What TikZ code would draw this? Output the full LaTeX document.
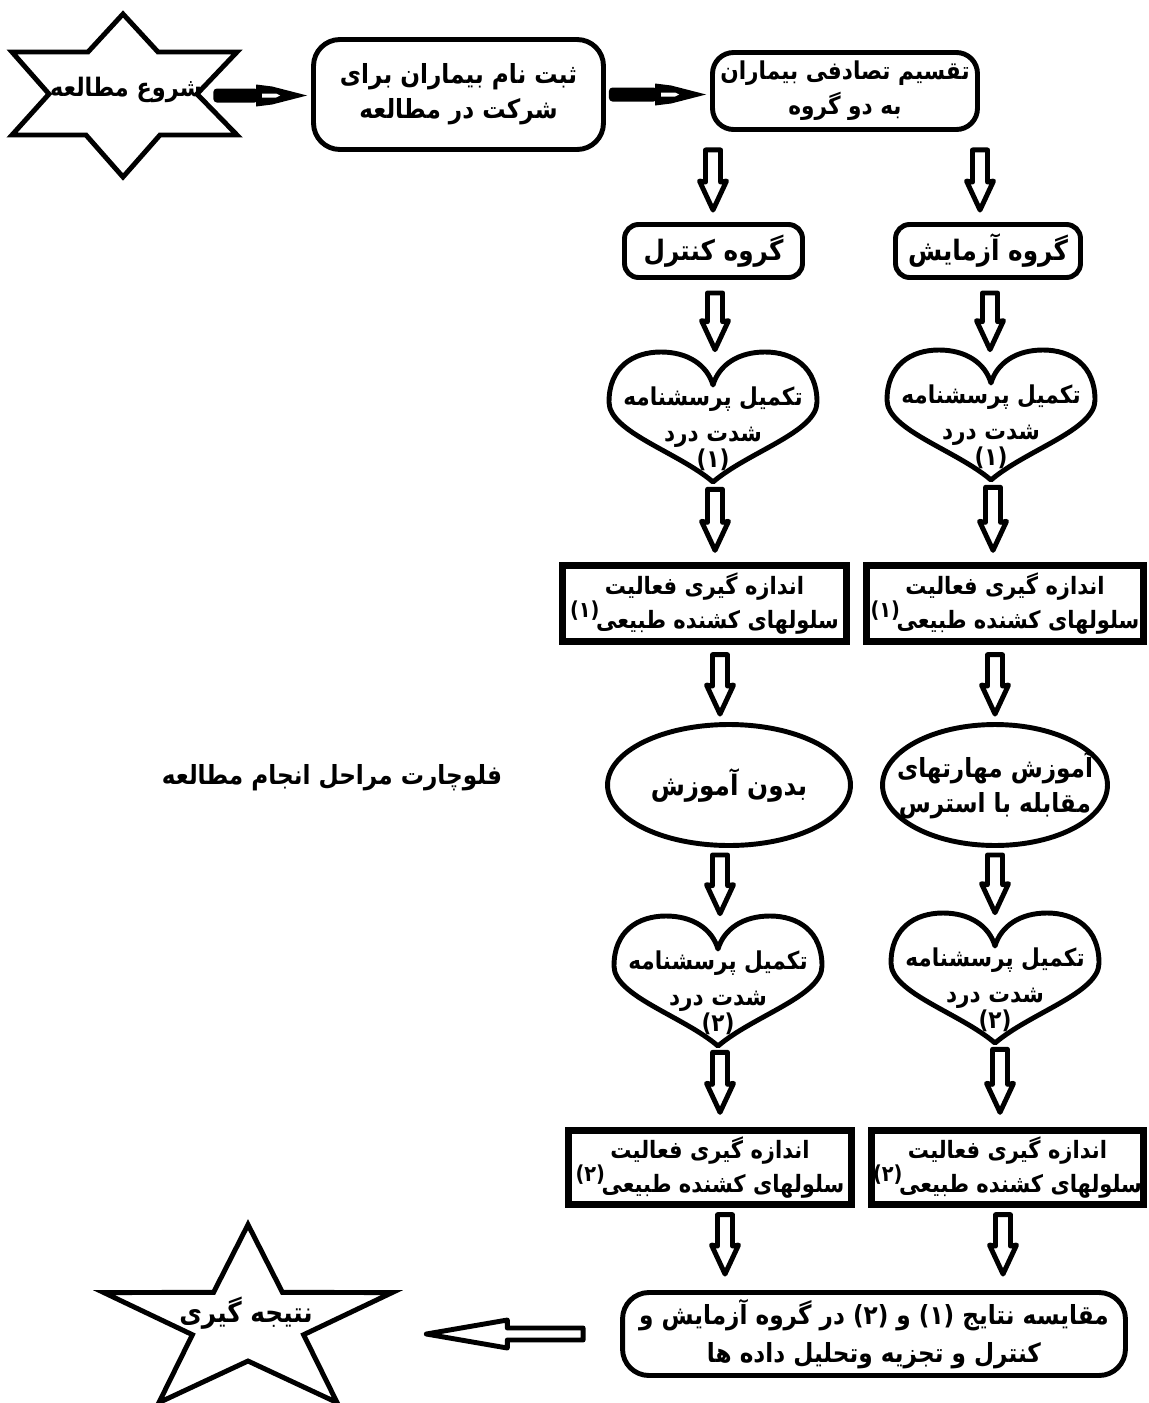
\documentclass[tikz,border=0pt]{standalone}
\usepackage{fontspec}
\newfontfamily\fa[Script=Arabic,FakeStretch=0.88]{DejaVu Sans}
\TeXXeTstate=1
\usetikzlibrary{calc,shapes.geometric}
\newcommand\rl[1]{\beginR #1\endR}
\newcommand\fs[1]{\fontsize{#1}{#1}\selectfont}
\newcommand\numup[1]{\kern-2pt\raisebox{0.8ex}{\fontsize{12.5}{12.5}\selectfont #1}}
\newcommand\heartpath[1]{%
  \draw[line width=2.8pt, line join=round, shift={(#1.center)}]
  (0,65) .. controls (-35,35) and (-104,15) .. (-104,-15)
  .. controls (-104,-50) and (-80,-65) .. (-52,-65)
  .. controls (-25,-65) and (-6,-52) .. (0,-32)
  .. controls (6,-52) and (25,-65) .. (52,-65)
  .. controls (80,-65) and (104,-50) .. (104,-15)
  .. controls (104,15) and (35,35) .. (0,65) -- cycle;}
% vertical block arrow: from, to, x(px), start gap(px), end gap(px)
\newcommand\varrow[5]{%
  \draw[barrow] let \p1=(#1.south), \p2=(#2.north),
    \n1={#3*0.02cm}, \n2={\y1-#4*0.02cm}, \n3={\y2+#5*0.02cm} in
  (\n1-0.15cm,\n2) -- (\n1+0.15cm,\n2) -- (\n1+0.15cm,\n3+0.56cm)
  -- (\n1+0.27cm,\n3+0.58cm) -- (\n1,\n3) -- (\n1-0.27cm,\n3+0.58cm)
  -- (\n1-0.15cm,\n3+0.56cm) -- cycle;}
% horizontal arrow with black shaft: from, to, start gap, end gap
\newcommand\harrow[4]{%
  \fill[rounded corners=2pt] let \p1=(#1.east), \p2=(#2.west),
    \n1={\x1+#3*0.02cm}, \n2={\x2-#4*0.02cm} in
  (\n1,\y1+0.14cm) rectangle (\n2-0.98cm,\y1-0.14cm);
  \fill let \p1=(#1.east), \p2=(#2.west), \n2={\x2-#4*0.02cm} in
  (\n2-1.02cm,\y1+0.22cm) -- (\n2-0.7cm,\y1+0.18cm) -- (\n2,\y1)
  -- (\n2-0.7cm,\y1-0.18cm) -- (\n2-1.02cm,\y1-0.22cm) -- cycle;
  \fill[white] let \p1=(#1.east), \p2=(#2.west), \n2={\x2-#4*0.02cm} in
  (\n2-0.9cm,\y1+0.04cm) -- (\n2-0.62cm,\y1+0.04cm) -- (\n2-0.54cm,\y1)
  -- (\n2-0.62cm,\y1-0.04cm) -- (\n2-0.9cm,\y1-0.04cm) -- cycle;}
\begin{document}
\begin{tikzpicture}[x=0.02cm,y=-0.02cm,
  txt/.style={font={\fa\bfseries\fontsize{15}{20}\selectfont}, align=center, inner sep=0pt},
  nktxt/.style={font={\fa\bfseries\fontsize{13.6}{19}\selectfont}},
  rbox/.style={draw, line width=2.8pt, txt},
  sbox/.style={draw, line width=3.6pt, txt, nktxt},
  ellbox/.style={ellipse, draw, line width=2.8pt, inner sep=0pt},
  heartbox/.style={minimum width=41.6mm, minimum height=26mm, inner sep=0pt},
  barrow/.style={draw, line width=2.8pt, fill=white, line join=round}]
\useasboundingbox (0,0) rectangle (1149,1403);
\fill[white] (0,0) rectangle (1149,1403);

% start hexagram
\node[minimum width=45mm, minimum height=32.6mm, inner sep=0pt] (hex) at (124.5,95.5) {};
\draw[line width=2.8pt, line join=miter]
  (123,14) -- (158,52) -- (237,52) -- (197,94) -- (237,135) -- (160,135)
  -- (123,177) -- (86,135) -- (12,135) -- (49,94) -- (12,52) -- (88,52) -- cycle;
\node[txt, font={\fa\bfseries\fs{14.5}}] (hext) at (126,90) {\rl{شروع مطالعه}};

% top boxes
\node[rbox, rounded corners=15pt, minimum width=58mm, minimum height=22mm] (box1) at (458.5,94.5)
  {\rl{ثبت نام بیماران برای}\\\rl{شرکت در مطالعه}};
\node[rbox, rounded corners=12pt, minimum width=53mm, minimum height=15.4mm,
  font={\fa\bfseries\fontsize{14}{20}\selectfont}] (box2) at (845,91)
  {\rl{تقسیم تصادفی بیماران}\\\rl{به دو گروه}};

\node[rbox, rounded corners=8pt, minimum width=35.6mm, minimum height=10.6mm, font={\fa\bfseries\fs{16}}] (ctrl) at (713.5,251)
  {\rl{گروه کنترل}};
\node[rbox, rounded corners=8pt, minimum width=37mm, minimum height=10.6mm, font={\fa\bfseries\fs{16}}] (test) at (988,251)
  {\rl{گروه آزمایش}};

% hearts 1
\node[heartbox] (h1L) at (713,417) {};
\heartpath{h1L}
\node[txt, font={\fa\bfseries\fontsize{14}{20}\selectfont}] (h1Lt) at (713,429) {\rl{تکمیل پرسشنامه}\\\rl{شدت درد}\\[-5pt]\rl{(۱)}};
\node[heartbox] (h1R) at (991,415) {};
\heartpath{h1R}
\node[txt, font={\fa\bfseries\fontsize{14}{20}\selectfont}] (h1Rt) at (991,427) {\rl{تکمیل پرسشنامه}\\\rl{شدت درد}\\[-5pt]\rl{(۱)}};

% NK 1
\node[sbox, minimum width=56.8mm, minimum height=15.2mm] (nk1L) at (704.5,603.5)
  {\rl{اندازه گیری فعالیت}\\\rl{سلولهای کشنده طبیعی\numup{(۱)}}};
\node[sbox, minimum width=55.4mm, minimum height=15.2mm] (nk1R) at (1005,603.5)
  {\rl{اندازه گیری فعالیت}\\\rl{سلولهای کشنده طبیعی\numup{(۱)}}};

% ellipses
\node[ellbox, minimum width=48.6mm, minimum height=24.2mm] (ellL) at (729,785) {};
\node[txt, font={\fa\bfseries\fs{16}}] (ellLt) at (729,785) {\rl{بدون آموزش}};
\node[ellbox, minimum width=45mm, minimum height=24.2mm] (ellR) at (995,785) {};
\node[txt] (ellRt) at (995,786) {\rl{آموزش مهارتهای}\\\rl{مقابله با استرس}};

% title
\node[txt] (title) at (332,778) {\rl{فلوچارت مراحل انجام مطالعه}};

% hearts 2
\node[heartbox] (h2L) at (718,981) {};
\heartpath{h2L}
\node[txt, font={\fa\bfseries\fontsize{14}{20}\selectfont}] (h2Lt) at (718,993) {\rl{تکمیل پرسشنامه}\\\rl{شدت درد}\\[-5pt]\rl{(۲)}};
\node[heartbox] (h2R) at (995,978) {};
\heartpath{h2R}
\node[txt, font={\fa\bfseries\fontsize{14}{20}\selectfont}] (h2Rt) at (995,990) {\rl{تکمیل پرسشنامه}\\\rl{شدت درد}\\[-5pt]\rl{(۲)}};

% NK 2
\node[sbox, minimum width=56.6mm, minimum height=14.8mm] (nk2L) at (710,1167.5)
  {\rl{اندازه گیری فعالیت}\\\rl{سلولهای کشنده طبیعی\numup{(۲)}}};
\node[sbox, minimum width=54.4mm, minimum height=14.8mm] (nk2R) at (1007.5,1167.5)
  {\rl{اندازه گیری فعالیت}\\\rl{سلولهای کشنده طبیعی\numup{(۲)}}};

% final box
\node[rbox, rounded corners=15pt, minimum width=100.6mm, minimum height=16.6mm,
  font={\fa\bfseries\fontsize{15}{22}\selectfont}] (final) at (874,1334)
  {\rl{مقایسه نتایج (۱) و (۲) در گروه آزمایش و}\\\rl{کنترل و تجزیه وتحلیل داده ها}};

% conclusion star
\node[minimum width=57.6mm, minimum height=35.6mm, inner sep=0pt] (conc) at (248,1313) {};
\draw[line width=2.8pt, line join=miter]
  (248,1224.6) -- (282.4,1292.3) -- (392.1,1292.6) -- (303.6,1334.7) -- (337.1,1402.6)
  -- (248,1361) -- (158.9,1402.6) -- (192.4,1334.7) -- (103.9,1292.6) -- (213.6,1292.3) -- cycle;
\node[txt, font={\fa\bfseries\fs{16}}] (conct) at (246,1313) {\rl{نتیجه گیری}};

% connectors
\harrow{hex}{box1}{-24}{4}
\harrow{box1}{box2}{3}{4}
\varrow{box2}{ctrl}{713}{18}{12}
\varrow{box2}{test}{980}{18}{12}
\varrow{ctrl}{h1L}{715}{13}{2}
\varrow{test}{h1R}{990}{13}{0}
\varrow{h1L}{nk1L}{715}{7}{12}
\varrow{h1R}{nk1R}{993}{7}{12}
\varrow{nk1L}{ellL}{720}{10}{8}
\varrow{nk1R}{ellR}{995}{10}{8}
\varrow{ellL}{h2L}{720}{7}{2}
\varrow{ellR}{h2R}{995}{7}{0}
\varrow{h2L}{nk2L}{720}{6}{15}
\varrow{h2R}{nk2R}{1000}{6}{15}
\varrow{nk2L}{final}{725}{7}{16}
\varrow{nk2R}{final}{1003}{7}{16}
\draw[barrow] let \p1=(final.west), \p2=(conc.east),
    \n1={\x1-37*0.02cm}, \n2={\x2+34*0.02cm} in
  (\n1,\y1+0.12cm) -- (\n2+1.62cm,\y1+0.12cm) -- (\n2+1.62cm,\y1+0.28cm) -- (\n2,\y1)
  -- (\n2+1.62cm,\y1-0.28cm) -- (\n2+1.62cm,\y1-0.12cm) -- (\n1,\y1-0.12cm) -- cycle;
\end{tikzpicture}
\end{document}
